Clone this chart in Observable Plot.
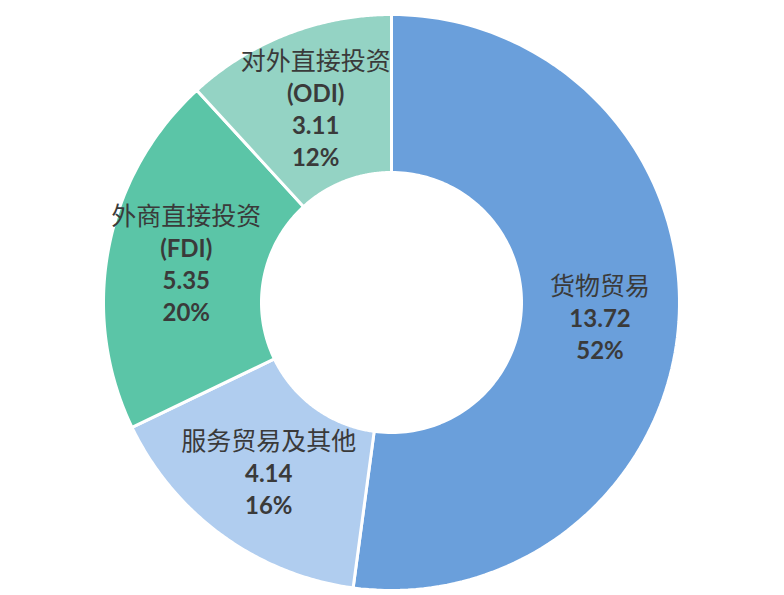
<!DOCTYPE html>
<html>
<head>
<meta charset="utf-8">
<script src="https://cdn.jsdelivr.net/npm/d3@7"></script>
<script src="https://cdn.jsdelivr.net/npm/@observablehq/plot@0.6"></script>
<style>
  html, body { margin: 0; padding: 0; background: #fff; }
</style>
</head>
<body>
<div id="chart"></div>
<script>
// ---- data ----
const names = ["货物贸易", "服务贸易及其他", "外商直接投资", "对外直接投资"];
const subNames = ["", "", "(FDI)", "(ODI)"];
const values = [13.72, 4.14, 5.35, 3.11];
const percents = ["52%", "16%", "20%", "12%"];
const colors = ["#6a9fdb", "#b0cdef", "#5bc5a7", "#94d3c4"];

// ---- geometry via d3.pie (angles) ----
const W = 784, H = 595;
const cx = 391, cy = 302, R = 288;          // centre and outer radius (px)
const innerFrac = 130 / 288;                 // hole size
const pie = d3.pie().sort(null).value((d) => d.value);
const rows = names.map((n, i) => ({name: n, sub: subNames[i], value: values[i], pct: percents[i]}));
const arcs = pie(rows);

const polys = [];
arcs.forEach((a) => {
  const n = 120;
  for (let k = 0; k <= n; k++) {
    const t = a.startAngle + (a.endAngle - a.startAngle) * k / n;
    polys.push({name: a.data.name, x: Math.sin(t), y: Math.cos(t)});
  }
  for (let k = n; k >= 0; k--) {
    const t = a.startAngle + (a.endAngle - a.startAngle) * k / n;
    polys.push({name: a.data.name, x: innerFrac * Math.sin(t), y: innerFrac * Math.cos(t)});
  }
});

const midR = (1 + innerFrac) / 2;
const labels = arcs.map((a) => {
  const t = (a.startAngle + a.endAngle) / 2;
  const d = a.data;
  const lines = d.sub ? 4 : 3;
  const regular = [d.name, ...Array(lines - 1).fill(" ")].join("\n");
  const bold = [" ", ...(d.sub ? [d.sub] : []), d.value.toFixed(2), d.pct].join("\n");
  return {x: midR * Math.sin(t), y: midR * Math.cos(t), regular, bold};
});

const chart = Plot.plot({
  width: W,
  height: H,
  margin: 0,
  x: {domain: [-cx / R, (W - cx) / R], axis: null},
  y: {domain: [-(H - cy) / R, cy / R], axis: null},
  color: {domain: names, range: colors},
  style: {background: "#fff"},
  marks: [
    Plot.line(polys, {x: "x", y: "y", z: "name", fill: "name", stroke: "#fff", strokeWidth: 3, curve: "linear-closed"}),
    Plot.text(labels, {x: "x", y: "y", text: "regular", fontSize: 25, lineHeight: 32 / 25, lineAnchor: "middle",
      fill: "#3a3a3a", fontFamily: "'Noto Sans CJK SC', sans-serif", fontWeight: "normal"}),
    Plot.text(labels, {x: "x", y: "y", text: "bold", fontSize: 24, lineHeight: 32 / 24, lineAnchor: "middle",
      fill: "#3a3a3a", fontFamily: "Lato, 'Noto Sans CJK SC', sans-serif", fontWeight: "bold"})
  ]
});
document.getElementById("chart").appendChild(chart);
</script>
</body>
</html>
